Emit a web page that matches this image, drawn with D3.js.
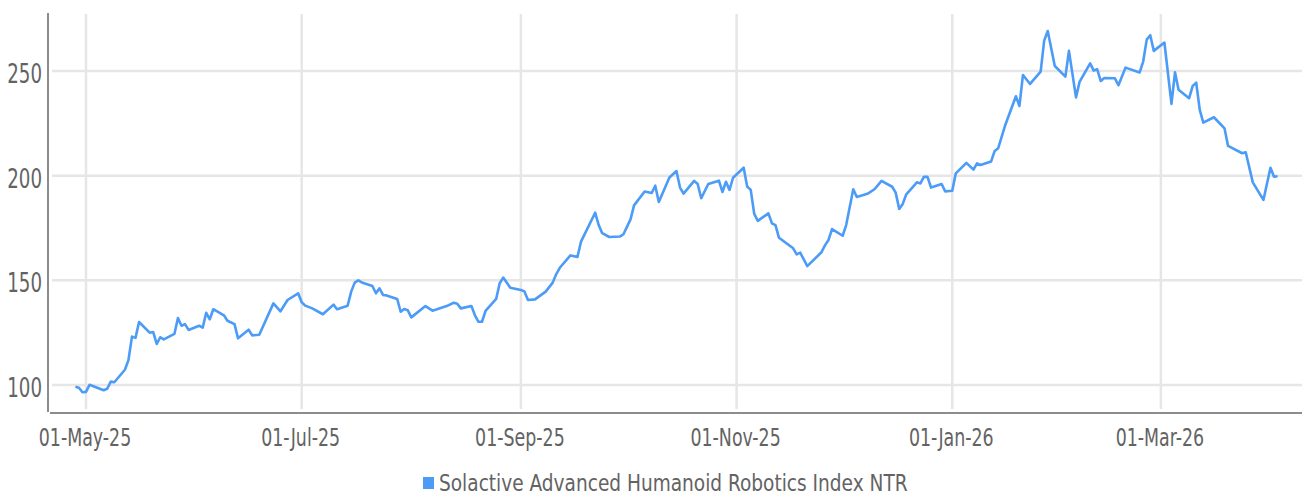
<!DOCTYPE html>
<html lang="en">
<head>
    <meta charset="UTF-8">
    <title>Solactive Advanced Humanoid Robotics Index NTR</title>
    <script src="https://d3js.org/d3.v7.min.js"></script>
    <style>
        body { margin: 0; background: #fff; }
        svg { display: block; }

        .grid line {
            stroke: #e6e6e6;
            stroke-width: 2.5px;
        }

        .axis-line {
            stroke: #8c8c8c;
            stroke-width: 2px;
        }

        /* narrow font is not installed, so the condensed one is squeezed a bit more */
        .label {
            font-family: "DejaVu Sans Condensed", "DejaVu Sans", sans-serif;
            fill: #636363;
        }

        .series {
            fill: none;
            stroke: #4b9bf7;
            stroke-width: 2.6px;
            stroke-linejoin: round;
        }
    </style>
</head>
<body>
<div id="chart"></div>

<script>
    // dates of the index points (trading days)
    const dates = [
        "2025-04-28","2025-04-29","2025-04-30","2025-05-01","2025-05-02","2025-05-06","2025-05-07","2025-05-08","2025-05-09",
        "2025-05-12","2025-05-13","2025-05-14","2025-05-15","2025-05-16","2025-05-19","2025-05-20","2025-05-21","2025-05-22",
        "2025-05-23","2025-05-26","2025-05-27","2025-05-28","2025-05-29","2025-05-30","2025-06-02","2025-06-03","2025-06-04",
        "2025-06-05","2025-06-06","2025-06-09","2025-06-10","2025-06-12","2025-06-13","2025-06-16","2025-06-17","2025-06-19",
        "2025-06-23","2025-06-25","2025-06-27","2025-06-30","2025-07-01","2025-07-02","2025-07-04","2025-07-07","2025-07-10",
        "2025-07-11","2025-07-14","2025-07-15","2025-07-16","2025-07-17","2025-07-18","2025-07-21","2025-07-22","2025-07-23",
        "2025-07-24","2025-07-25","2025-07-28","2025-07-29","2025-07-30","2025-07-31","2025-08-01","2025-08-05","2025-08-07",
        "2025-08-11","2025-08-13","2025-08-14","2025-08-15","2025-08-18","2025-08-19","2025-08-20","2025-08-21","2025-08-22",
        "2025-08-25","2025-08-26","2025-08-27","2025-08-29","2025-09-01","2025-09-02","2025-09-03","2025-09-05","2025-09-08",
        "2025-09-10","2025-09-11","2025-09-12","2025-09-15","2025-09-17","2025-09-18","2025-09-22","2025-09-23","2025-09-24",
        "2025-09-26","2025-09-29","2025-09-30","2025-10-02","2025-10-03","2025-10-06","2025-10-08","2025-10-09","2025-10-10",
        "2025-10-13","2025-10-15","2025-10-16","2025-10-17","2025-10-20","2025-10-21","2025-10-22","2025-10-24","2025-10-27",
        "2025-10-28","2025-10-29","2025-10-30","2025-10-31","2025-11-03","2025-11-04","2025-11-05","2025-11-06","2025-11-07",
        "2025-11-10","2025-11-11","2025-11-12","2025-11-13","2025-11-17","2025-11-18","2025-11-19","2025-11-21","2025-11-25",
        "2025-11-26","2025-11-27","2025-11-28","2025-12-01","2025-12-02","2025-12-04","2025-12-05","2025-12-08","2025-12-10",
        "2025-12-12","2025-12-15","2025-12-16","2025-12-17","2025-12-18","2025-12-19","2025-12-22","2025-12-23","2025-12-24",
        "2025-12-25","2025-12-26","2025-12-29","2025-12-30","2026-01-01","2026-01-02","2026-01-05","2026-01-07","2026-01-08",
        "2026-01-09","2026-01-12","2026-01-13","2026-01-14","2026-01-16","2026-01-19","2026-01-20","2026-01-21","2026-01-23",
        "2026-01-26","2026-01-27","2026-01-28","2026-01-30","2026-02-02","2026-02-03","2026-02-05","2026-02-06","2026-02-09",
        "2026-02-10","2026-02-11","2026-02-12","2026-02-13","2026-02-16","2026-02-17","2026-02-19","2026-02-23","2026-02-24",
        "2026-02-25","2026-02-26","2026-02-27","2026-03-02","2026-03-04","2026-03-05","2026-03-06","2026-03-09","2026-03-10",
        "2026-03-11","2026-03-12","2026-03-13","2026-03-16","2026-03-19","2026-03-20","2026-03-24","2026-03-25","2026-03-27",
        "2026-03-30","2026-04-01","2026-04-02","2026-04-03"
    ];

    // index level
    const values = [
        99.2, 98.7, 96.5, 96.7, 100.1, 97.5, 98.2, 101.6, 101.3,
        107.3, 111.9, 123.1, 122.5, 130.1, 125.0, 125.3, 119.6, 122.8,
        121.8, 124.4, 132.0, 128.3, 129.1, 126.3, 128.3, 127.4, 134.5,
        131.4, 136.2, 133.3, 130.7, 129.1, 122.3, 126.4, 123.7, 124.0,
        139.0, 135.2, 140.6, 143.8, 139.5, 137.9, 136.6, 133.8, 138.4,
        136.2, 137.9, 144.6, 148.9, 150.0, 149.0, 147.3, 143.8, 146.2,
        143.0, 142.8, 141.1, 135.0, 136.3, 135.7, 132.3, 137.7, 135.5,
        137.7, 139.3, 138.8, 136.6, 137.7, 133.3, 130.2, 130.2, 135.4,
        141.1, 148.6, 151.3, 146.5, 145.4, 144.7, 140.6, 140.9, 144.6,
        148.9, 153.0, 156.0, 161.9, 161.2, 168.5, 182.3, 176.4, 172.5,
        170.7, 170.9, 172.0, 179.1, 185.8, 192.4, 191.7, 195.2, 187.4,
        199.1, 202.2, 194.3, 191.4, 197.5, 196.0, 189.2, 196.0, 197.6,
        192.2, 197.1, 193.2, 199.0, 203.8, 194.8, 193.2, 181.7, 178.4,
        182.0, 177.2, 176.4, 170.3, 165.3, 162.4, 163.2, 156.8, 163.4,
        166.7, 169.3, 174.5, 171.3, 176.4, 193.5, 189.8, 191.3, 193.5,
        197.5, 194.7, 191.9, 184.1, 186.5, 191.1, 196.8, 196.3, 199.5,
        199.4, 194.3, 196.0, 192.5, 192.8, 201.1, 206.1, 202.9, 205.9,
        205.1, 206.8, 211.8, 213.1, 224.2, 237.9, 233.3, 248.1, 243.8,
        249.7, 264.5, 269.1, 252.4, 247.3, 259.6, 237.4, 244.8, 253.6,
        250.2, 250.8, 245.2, 246.6, 246.5, 243.2, 251.6, 249.3, 254.5,
        265.0, 267.1, 259.6, 263.6, 234.3, 249.4, 241.0, 237.0, 242.9,
        244.4, 231.4, 225.3, 227.9, 222.6, 214.2, 210.7, 211.2, 196.8,
        188.4, 203.8, 199.5, 199.7
    ];

    const xTicks = ["2025-05-01", "2025-07-01", "2025-09-01", "2025-11-01", "2026-01-01", "2026-03-01"];
    const yTicks = [100, 150, 200, 250];
    const seriesName = "Solactive Advanced Humanoid Robotics Index NTR";

    const width = 1302, height = 496;
    const margin = {top: 13, right: 0, bottom: 84, left: 48};

    const parse = d3.timeParse("%Y-%m-%d");
    const fmt = d3.timeFormat("%d-%b-%y");
    const data = dates.map((d, i) => ({date: parse(d), value: values[i]}));

    const svg = d3.select("#chart")
        .append("svg")
        .attr("width", width)
        .attr("height", height);

    const x = d3.scaleTime()
        .domain([new Date(2025, 3, 20, 6), new Date(2026, 3, 9, 22)])
        .range([margin.left, width - margin.right]);

    const y = d3.scaleLinear()
        .domain([87.1, 277.7])
        .range([height - margin.bottom, margin.top]);

    // text squeezed horizontally around its anchor point
    function label(g, px, py, str, size, sx, anchor) {
        return g.append("text")
            .attr("class", "label")
            .attr("transform", "translate(" + px + "," + py + ") scale(" + sx + ",1)")
            .attr("text-anchor", anchor)
            .style("font-size", size + "px")
            .text(str);
    }

    // horizontal grid
    svg.append("g").attr("class", "grid")
        .selectAll("line")
        .data(yTicks)
        .enter().append("line")
        .attr("x1", margin.left + 4)
        .attr("x2", width)
        .attr("y1", d => y(d))
        .attr("y2", d => y(d));

    // vertical grid
    svg.append("g").attr("class", "grid")
        .selectAll("line")
        .data(xTicks.map(parse))
        .enter().append("line")
        .attr("x1", d => x(d))
        .attr("x2", d => x(d))
        .attr("y1", margin.top + 1)
        .attr("y2", height - margin.bottom - 3);

    // axis lines
    svg.append("line").attr("class", "axis-line")
        .attr("x1", margin.left).attr("x2", margin.left)
        .attr("y1", margin.top).attr("y2", height - margin.bottom);
    svg.append("line").attr("class", "axis-line")
        .attr("x1", margin.left + 2).attr("x2", width)
        .attr("y1", height - margin.bottom + 1).attr("y2", height - margin.bottom + 1);

    // y labels
    const yLab = svg.append("g");
    yTicks.forEach(t => label(yLab, margin.left - 6, y(t) + 12, t, 27, 0.75, "end"));

    // x labels
    const xLab = svg.append("g");
    xTicks.map(parse).forEach(t => label(xLab, x(t) - 1, 446, fmt(t), 24.5, 0.79, "middle"));

    // the series
    const line = d3.line()
        .x(d => x(d.date))
        .y(d => y(d.value));

    svg.append("path")
        .datum(data)
        .attr("class", "series")
        .attr("d", line);

    // legend
    const legend = svg.append("g");
    legend.append("rect")
        .attr("x", 423)
        .attr("y", 477)
        .attr("width", 11)
        .attr("height", 12)
        .attr("fill", "#4b9bf7");
    label(legend, 439, 491, seriesName, 23, 0.897, "start");
</script>
</body>
</html>
